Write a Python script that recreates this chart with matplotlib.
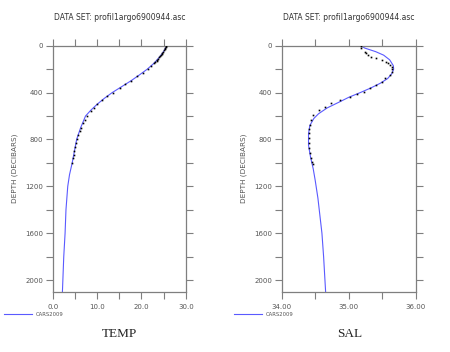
import matplotlib
matplotlib.use("Agg")
import matplotlib.pyplot as plt
import numpy as np

title = "DATA SET: profil1argo6900944.asc"

# CARS2009 climatology (blue line)
cars_temp_depth = [0, 50, 100, 150, 200, 250, 300, 350, 400, 450, 500, 550, 600, 700, 800,
                   900, 1000, 1100, 1200, 1400, 1600, 1800, 2000, 2100]
cars_temp = [25.7, 25.0, 24.0, 22.8, 21.3, 19.5, 17.6, 15.5, 13.4, 11.6, 10.0, 8.6, 7.4, 6.3,
             5.4, 4.9, 4.4, 3.8, 3.4, 3.0, 2.8, 2.5, 2.3, 2.2]

cars_sal_depth = [0, 20, 50, 80, 120, 170, 200, 240, 280, 320, 360, 400, 440, 480, 530, 580,
                  620, 680, 750, 850, 950, 1050, 1150, 1300, 1450, 1600, 1800, 2000, 2100]
cars_sal = [35.18, 35.24, 35.40, 35.52, 35.61, 35.665, 35.67, 35.64, 35.58, 35.47, 35.33,
            35.17, 35.00, 34.86, 34.68, 34.55, 34.48, 34.42, 34.40, 34.40, 34.43, 34.47,
            34.50, 34.54, 34.57, 34.60, 34.625, 34.645, 34.655]

# Argo float profile (black dots)
argo_temp_depth = [5, 10, 20, 30, 40, 50, 60, 70, 80, 90, 100, 110, 120, 130, 140, 150, 170,
                   200, 230, 260, 300, 330, 360, 400, 430, 460, 500, 530, 560, 600, 630, 660,
                   700, 730, 760, 800, 830, 860, 900, 930, 960, 1000]
argo_temp = [25.6, 25.5, 25.4, 25.3, 25.1, 24.9, 24.7, 24.6, 24.4, 24.2, 24.0, 23.8, 23.6,
             23.4, 23.1, 22.8, 22.2, 21.4, 20.3, 19.1, 17.7, 16.4, 15.2, 13.6, 12.3, 11.2,
             10.1, 9.3, 8.6, 7.8, 7.3, 6.9, 6.4, 6.1, 5.8, 5.5, 5.3, 5.1, 4.9, 4.7, 4.6, 4.4]

argo_sal_depth = [5, 22, 51, 65, 79, 94, 108, 122, 136, 150, 165, 179, 200, 222, 250, 278,
                  307, 335, 364, 392, 412, 435, 463, 492, 520, 550, 591, 630, 677, 710, 747,
                  790, 833, 875, 918, 955, 990, 1010]
argo_sal = [35.19, 35.19, 35.24, 35.26, 35.28, 35.33, 35.41, 35.50, 35.56, 35.59, 35.62,
            35.64, 35.65, 35.64, 35.61, 35.54, 35.49, 35.40, 35.31, 35.22, 35.12, 35.02,
            34.87, 34.74, 34.64, 34.56, 34.47, 34.44, 34.42, 34.41, 34.40, 34.40, 34.40,
            34.41, 34.42, 34.43, 34.45, 34.46]

temp_ticks = [0, 10, 20, 30]
temp_ticklabels = ["0.0", "10.0", "20.0", "30.0"]
sal_ticks = [34, 35, 36]
sal_ticklabels = ["34.00", "35.00", "36.00"]
depth_ticks = [0, 400, 800, 1200, 1600, 2000]
panel_names = ["TEMP", "SAL"]
legend_label = "CARS2009"

blue = "#5a5aff"
gray = "#7f7f7f"

fig = plt.figure(figsize=(4.5, 3.52), dpi=100)
fig.patch.set_facecolor("white")

ax1 = fig.add_axes([0.117, 0.171, 0.296, 0.699])
ax2 = fig.add_axes([0.626, 0.171, 0.298, 0.699])

panels = [
    (ax1, cars_temp, cars_temp_depth, argo_temp, argo_temp_depth, (0, 30), temp_ticks,
     temp_ticklabels, 5),
    (ax2, cars_sal, cars_sal_depth, argo_sal, argo_sal_depth, (34, 36), sal_ticks,
     sal_ticklabels, 0.5),
]

for ax, cv, cd, av, ad, xl, xt, xtl, minor in panels:
    ax.plot(cv, cd, color=blue, lw=0.8, zorder=2)
    ax.plot(av, ad, linestyle="none", marker="s", ms=1.2, color="black", mew=0, zorder=3)
    ax.set_xlim(*xl)
    ax.set_ylim(2100, 0)
    ax.set_xticks(xt)
    ax.set_xticklabels(xtl)
    ax.set_xticks(np.arange(xl[0], xl[1] + minor / 2, minor), minor=True)
    ax.set_yticks(depth_ticks)
    ax.set_yticks(np.arange(0, 2001, 200), minor=True)
    ax.tick_params(which="both", direction="out", length=5, width=0.8, color=gray,
                   labelsize=5, labelcolor="#555555", top=True, right=True, pad=2)
    ax.tick_params(axis="x", which="both", labeltop=False, pad=4)
    for s in ax.spines.values():
        s.set_color(gray)
        s.set_linewidth(0.9)
    ax.text(0.5, 1.115, title, transform=ax.transAxes, ha="center", va="center",
            fontsize=5.5, color="#333333")
    ax.set_ylabel("DEPTH (DECIBARS)", fontsize=5.2, color="#555555", labelpad=5)

# legend-like sample lines below plots
fig.add_artist(plt.Line2D([4 / 450, 32 / 450], [1 - 314 / 352] * 2, color=blue, lw=0.8))
fig.text(36 / 450, 1 - 314 / 352, legend_label, fontsize=3.8, color="#555555", va="center")
fig.add_artist(plt.Line2D([234 / 450, 262 / 450], [1 - 314 / 352] * 2, color=blue, lw=0.8))
fig.text(266 / 450, 1 - 314 / 352, legend_label, fontsize=3.8, color="#555555", va="center")

fig.text(119.5 / 450, 1 - 334 / 352, panel_names[0], fontsize=9.5, family="Liberation Serif",
         ha="center", va="center", color="#222222")
fig.text(349.5 / 450, 1 - 334 / 352, panel_names[1], fontsize=9.5, family="Liberation Serif",
         ha="center", va="center", color="#222222")

fig.savefig("out.png", dpi=100, facecolor="white")
